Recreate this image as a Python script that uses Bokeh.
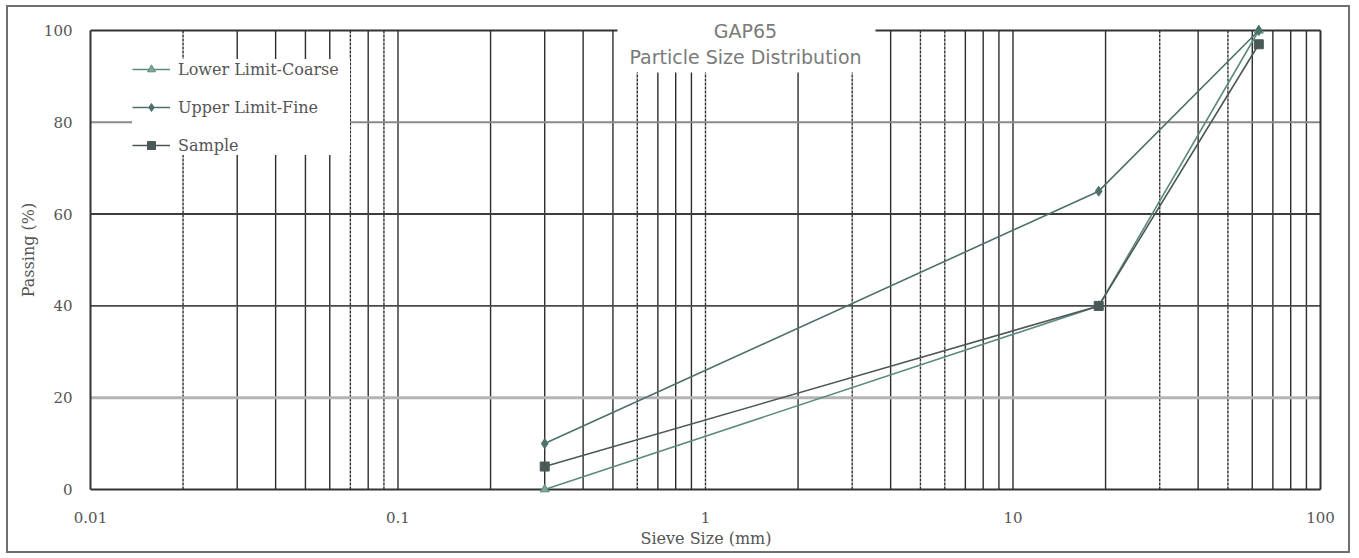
from bokeh.plotting import figure
from bokeh.layouts import column
from bokeh.models import Legend, LegendItem, FixedTicker, ColumnDataSource, Range1d
from bokeh.core.properties import value
from bokeh.embed import file_html
from bokeh.resources import INLINE

# ---- data ----
sieve_mm = [0.3, 19, 63]
lower_limit_coarse = [0, 40, 100]
upper_limit_fine = [10, 65, 100]
sample = [5, 40, 97]
x_tick_values = [0.01, 0.1, 1, 10, 100]
x_tick_labels = ["0.01", "0.1", "1", "10", "100"]
y_tick_values = [0, 20, 40, 60, 80, 100]
grid_solid = [0.03, 0.04, 0.05, 0.06, 0.08, 0.1,
              0.2, 0.3, 0.4, 0.5, 0.7, 0.8, 0.9,
              2, 4, 7, 8, 9, 10,
              20, 40, 60, 70, 80, 90]
grid_dashed = [0.02, 0.07, 0.09, 0.6, 1, 3, 5, 6, 30, 50]
h_grid_values = [20, 40, 60, 80]
h_grid_colors = ["#b4b4b4", "#4a4a4a", "#3c3c3c", "#8a8a8a"]
h_grid_widths = [3, 1.6, 2, 2]
title_lines = ["GAP65", "Particle Size Distribution"]

SERIF = "DejaVu Serif"
PX_PER_DECADE = 307.5
PX_PER_UNIT = 4.59

W, H = 1340, 544
FL, FR, FT, FB = 79, 1316, 0, 485          # frame box in canvas px
X0_PX, Y100_PX, Y0_PX = 82, 23, 482        # where 0.01 / 100 % / 0 % sit

x_start = 0.01 * 10 ** (-(X0_PX - FL) / PX_PER_DECADE)
x_end = 100 * 10 ** ((FR - (X0_PX + 4 * PX_PER_DECADE)) / PX_PER_DECADE)
y_end = 100 + (Y100_PX - FT) / PX_PER_UNIT
y_start = -(FB - Y0_PX) / PX_PER_UNIT

p = figure(width=W, height=H, x_axis_type="log",
           x_range=Range1d(x_start, x_end), y_range=Range1d(y_start, y_end),
           output_backend="svg", toolbar_location=None,
           min_border_left=FL, min_border_right=W - FR,
           min_border_top=FT, min_border_bottom=H - FB)
p.title.visible = False
p.xgrid.visible = False
p.ygrid.visible = False
p.outline_line_color = None
p.background_fill_color = "white"
p.border_fill_color = "white"

xmin, xmax = x_tick_values[0], x_tick_values[-1]
ymin, ymax = y_tick_values[0], y_tick_values[-1]

# vertical grid lines
p.segment(x0=grid_solid, y0=[ymin] * len(grid_solid), x1=grid_solid, y1=[ymax] * len(grid_solid),
          line_color="#2e2e2e", line_width=1.4)
p.segment(x0=grid_dashed, y0=[ymin] * len(grid_dashed), x1=grid_dashed, y1=[ymax] * len(grid_dashed),
          line_color="#2e2e2e", line_width=1.4, line_dash="3 1")
# horizontal grid lines
hsrc = ColumnDataSource(dict(y=h_grid_values, c=h_grid_colors, w=h_grid_widths,
                             x0=[xmin] * 4, x1=[xmax] * 4))
p.segment(x0="x0", y0="y", x1="x1", y1="y", line_color="c", line_width="w", source=hsrc)
# plot frame
p.segment(x0=[xmin, xmax, xmin, xmin], y0=[ymin, ymin, ymin, ymax],
          x1=[xmin, xmax, xmax, xmax], y1=[ymax, ymax, ymin, ymax],
          line_color="#333333", line_width=2)

# title box (white panel breaking the grid) and title text
p.quad(left=[0.5174], right=[3.571], bottom=[90.85], top=[y_end],
       fill_color="white", line_color=None)
p.text(x=[1.349, 1.349], y=[99.8, 94.3], text=title_lines,
       text_font=value("DejaVu Sans"), text_font_size="19px", text_color="#7a7a7a",
       text_align="center", text_baseline="middle")

# data series
c_low = "#5d8a7f"
c_up = "#4c706b"
c_sam = "#4b5858"
l1 = p.line(sieve_mm, lower_limit_coarse, line_color=c_low, line_width=1.6)
m1 = p.scatter(sieve_mm, lower_limit_coarse, marker="triangle", size=9,
               fill_color="#7ea696", line_color=c_low)
l2 = p.line(sieve_mm, upper_limit_fine, line_color=c_up, line_width=1.6)
m2 = p.scatter(sieve_mm, upper_limit_fine, marker="diamond", size=10,
               fill_color=c_up, line_color=c_up)
l3 = p.line(sieve_mm, sample, line_color=c_sam, line_width=1.6)
m3 = p.scatter(sieve_mm, sample, marker="square", size=9,
               fill_color=c_sam, line_color=c_sam)

legend = Legend(items=[LegendItem(label="Lower Limit-Coarse", renderers=[l1, m1]),
                       LegendItem(label="Upper Limit-Fine", renderers=[l2, m2]),
                       LegendItem(label="Sample", renderers=[l3, m3])],
                location=(45, 337))
legend.background_fill_color = "white"
legend.background_fill_alpha = 1.0
legend.border_line_color = None
legend.label_text_font = SERIF
legend.label_text_font_size = "16px"
legend.label_text_color = "#555555"
legend.glyph_width = 38
legend.glyph_height = 20
legend.label_height = 20
legend.label_width = 172
legend.spacing = 18
legend.padding = 12
legend.label_standoff = 8
p.add_layout(legend)

# axes
p.xaxis.ticker = FixedTicker(ticks=x_tick_values)
p.xaxis.major_label_overrides = {v: t for v, t in zip(x_tick_values, x_tick_labels)}
p.yaxis.ticker = FixedTicker(ticks=y_tick_values)
for ax in (p.xaxis[0], p.yaxis[0]):
    ax.major_tick_line_color = None
    ax.minor_tick_line_color = None
    ax.major_tick_out = 0
    ax.major_tick_in = 0
    ax.minor_tick_out = 0
    ax.minor_tick_in = 0
    ax.axis_line_color = None
    ax.major_label_text_font = SERIF
    ax.major_label_text_font_size = "15px"
    ax.major_label_text_color = "#555555"
    ax.axis_label_text_font = SERIF
    ax.axis_label_text_font_size = "16px"
    ax.axis_label_text_font_style = "normal"
    ax.axis_label_text_color = "#555555"
p.xaxis.axis_label = "Sieve Size (mm)"
p.yaxis.axis_label = "Passing (%)"
p.xaxis.major_label_standoff = 19
p.xaxis.axis_label_standoff = 3
p.yaxis.major_label_standoff = 15
p.yaxis.axis_label_standoff = 3

layout = column(p, styles={"border": "2px solid #6f6f6f", "margin-left": "6px",
                           "margin-top": "5px", "background": "white"})

open("out.html", "w").write(file_html(layout, INLINE))
